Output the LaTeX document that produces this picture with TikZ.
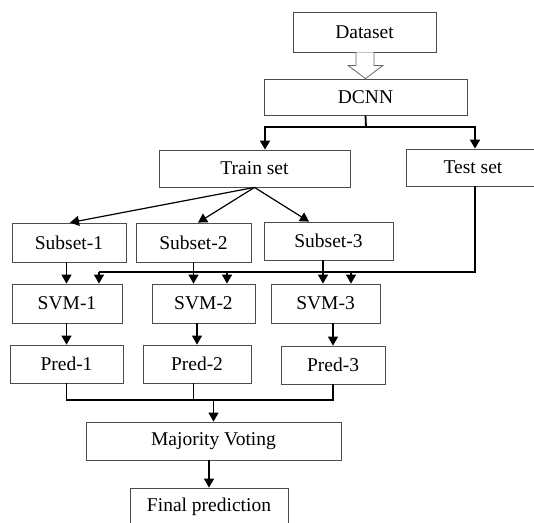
\documentclass[tikz,border=0pt]{standalone}
\usepackage{fontspec}
\setmainfont{Liberation Serif}
\usetikzlibrary{arrows.meta}
\begin{document}
\begin{tikzpicture}[x=1pt,y=-1pt,
  box/.style={draw=black!70,line width=0.8pt,fill=white,inner sep=0pt,
    font=\fontsize{19.5}{23}\selectfont},
  conn/.style={draw=black,line width=1.2pt},
  arr/.style={conn,-{Triangle[width=10pt,length=9pt]}},
  thickconn/.style={draw=black,line width=1.8pt},
  thickarr/.style={thickconn,-{Triangle[width=10pt,length=9pt]}}]
\clip (0,0) rectangle (534,522);
\fill[white] (0,0) rectangle (534,522);
% nodes
\node[box,minimum width=143pt,minimum height=40pt] (dataset) at (364.5,32) {Dataset};
\node[box,minimum width=203pt,minimum height=36pt] (dcnn) at (365.5,97) {DCNN};
\node[box,minimum width=191pt,minimum height=37pt] (train) at (254.5,168.5) {Train set};
\node[box,minimum width=134pt,minimum height=37pt] (test) at (473,167.5) {Test set};
\node[box,minimum width=114pt,minimum height=39pt] (s1) at (69,242.5) {Subset-1};
\node[box,minimum width=115pt,minimum height=39pt] (s2) at (193.5,242.5) {Subset-2};
\node[box,minimum width=129pt,minimum height=38pt] (s3) at (328.5,241) {Subset-3};
\node[box,minimum width=110pt,minimum height=39pt] (v1) at (67,303.5) {SVM-1};
\node[box,minimum width=103pt,minimum height=39pt] (v2) at (203.5,303.5) {SVM-2};
\node[box,minimum width=109pt,minimum height=39pt] (v3) at (325.5,303.5) {SVM-3};
\node[box,minimum width=113pt,minimum height=38pt] (p1) at (66.5,364) {Pred-1};
\node[box,minimum width=108pt,minimum height=38pt] (p2) at (197,364) {Pred-2};
\node[box,minimum width=104pt,minimum height=38pt] (p3) at (333,365) {Pred-3};
\node[box,minimum width=255pt,minimum height=38pt] (maj) at (213.5,441) {Majority Voting};
\node[box,minimum width=158pt,minimum height=38pt] (final) at (209,507) {Final prediction};
% hollow arrow Dataset -> DCNN
\draw[draw=black!60,line width=0.8pt,fill=white]
  ([xshift=-8.5pt]dataset.south) -- ([xshift=-8.5pt,yshift=-13pt]dataset.south)
  -- ([xshift=-16.5pt,yshift=-13pt]dataset.south) -- (dcnn.north)
  -- ([xshift=18.5pt,yshift=-13pt]dataset.south) -- ([xshift=9.5pt,yshift=-13pt]dataset.south)
  -- ([xshift=9.5pt]dataset.south);
% DCNN split
\coordinate (dj) at (366,127);
\draw[thickconn] (dcnn.south) -- (dj);
\draw[thickarr] (dj) -| ([xshift=10.5pt]train.north);
\draw[thickarr] (dj) -| ([xshift=2pt]test.north);
% Train -> subsets
\draw[arr] (train.south) -- ([xshift=1pt]s1.north);
\draw[arr] (train.south) -- ([xshift=4.5pt]s2.north);
\draw[arr] (train.south) -- ([xshift=-19.5pt]s3.north);
% Subsets -> SVMs
\draw[arr] ([xshift=-2.5pt]s1.south) -- ([xshift=-2.5pt]s1.south |- v1.north);
\draw[arr] (s2.south) -- (s2.south |- v2.north);
\draw[arr] ([xshift=-5.5pt]s3.south) -- ([xshift=-5.5pt]s3.south |- v3.north);
% Test set bus
\coordinate (tb1) at (99,272);
\coordinate (tb2) at (227,272);
\coordinate (tb3) at (351,272);
\draw[conn] ([xshift=2pt]test.south) |- (tb1);
\draw[arr] (tb1) -- (tb1 |- v1.north);
\draw[arr] (tb2) -- (tb2 |- v2.north);
\draw[arr] (tb3) -- (tb3 |- v3.north);
% SVMs -> Preds
\draw[arr] (p1.north |- v1.south) -- (p1.north);
\draw[arr] (p2.north |- v2.south) -- (p2.north);
\draw[arr] (p3.north |- v3.south) -- (p3.north);
% Preds -> Majority
\coordinate (mb) at (214,400);
\draw[conn] (p1.south) |- (p3.south |- mb) -- (p3.south);
\draw[conn] ([xshift=-3.5pt]p2.south) -- ([xshift=-3.5pt]p2.south |- mb);
\draw[arr] (maj.north |- mb) -- (maj.north);
% Majority -> Final
\draw[arr] (maj.south -| final.north) -- (final.north);
\end{tikzpicture}
\end{document}
